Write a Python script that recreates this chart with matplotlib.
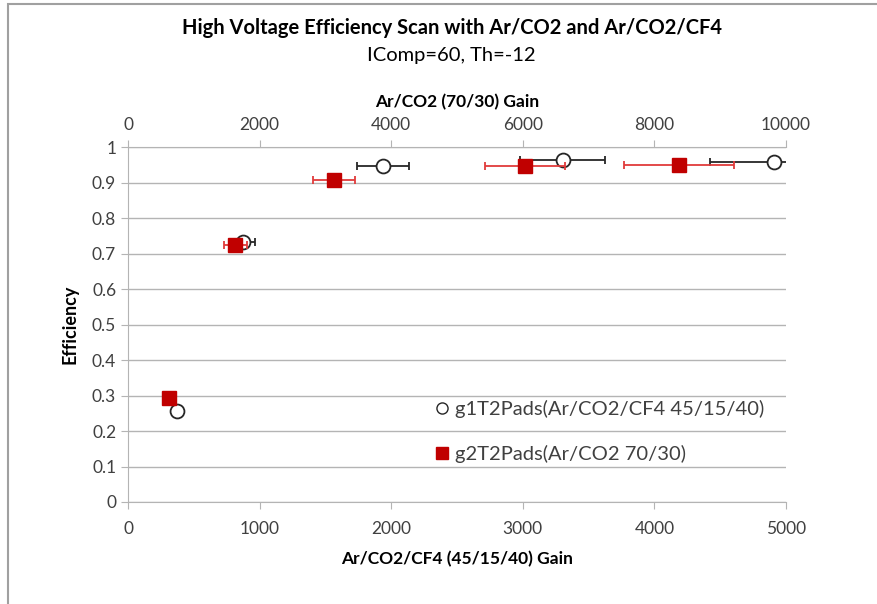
#!/usr/bin/env python3
import matplotlib
matplotlib.use('Agg')
import matplotlib.pyplot as plt
from matplotlib.patches import Rectangle
from matplotlib.lines import Line2D

plt.rcParams['font.family'] = ['Lato', 'DejaVu Sans']

# g1: Ar/CO2/CF4 (45/15/40), bottom axis
g1_gain = [373, 875, 1941, 3303, 4909]
g1_eff = [0.255, 0.731, 0.946, 0.963, 0.958]
g1_err = [0, 90, 198, 325, 490]

# g2: Ar/CO2 (70/30), top axis
g2_gain = [624, 1629, 3135, 6027, 8371]
g2_eff = [0.292, 0.725, 0.906, 0.946, 0.949]
g2_err = [0, 175, 320, 609, 837]

y_ticks = [0, 0.1, 0.2, 0.3, 0.4, 0.5, 0.6, 0.7, 0.8, 0.9, 1]
bottom_ticks = [0, 1000, 2000, 3000, 4000, 5000]
top_ticks = [0, 2000, 4000, 6000, 8000, 10000]

grey = '#b4b4b4'
txt = '#404040'

fig = plt.figure(figsize=(8.77, 6.04), dpi=100)
# outer chart border (only left and top visible in the crop)
fig.patches.append(Rectangle((8 / 877, -0.1), 1.2, 1 - 4 / 604 + 0.1,
                             transform=fig.transFigure, fill=False,
                             edgecolor='#a0a0a0', lw=1.5))

ax = fig.add_axes([128 / 877, 1 - 502 / 604, 658 / 877, 355 / 604])
ax.set_xlim(0, 5000)
ax.set_ylim(0, 1)
ax.set_yticks(y_ticks)
ax.set_yticklabels([f'{v:g}' for v in y_ticks])
ax.set_xticks(bottom_ticks)
ax.grid(axis='y', color=grey, lw=1)
ax.set_axisbelow(True)
for s in ['right', 'top']:
    ax.spines[s].set_visible(False)
for s in ['left', 'bottom']:
    ax.spines[s].set_color(grey)
ax.tick_params(colors=grey, labelcolor=txt, labelsize=12.5, length=5)
ax.tick_params(axis='x', pad=9)

ax.errorbar(g1_gain, g1_eff, xerr=g1_err, fmt='o', ms=10, mfc='white',
            mec='#262626', mew=1.3, ecolor='#262626', elinewidth=1.3,
            capsize=3, capthick=1.3, label='g1T2Pads(Ar/CO2/CF4 45/15/40)')

ax2 = ax.twiny()
ax2.set_xlim(0, 10000)
ax2.set_xticks(top_ticks)
for s in ['right', 'left', 'bottom']:
    ax2.spines[s].set_visible(False)
ax2.spines['top'].set_color(grey)
ax2.tick_params(colors=grey, labelcolor=txt, labelsize=12.5, length=5, pad=5)
ax2.errorbar(g2_gain, g2_eff, xerr=g2_err, fmt='s', ms=9.5, mfc='#c00000',
             mec='#c00000', ecolor='#e03c3c', elinewidth=1.3,
             capsize=3, capthick=1.3, label='g2T2Pads(Ar/CO2 70/30)')

ax.set_xlabel('Ar/CO2/CF4 (45/15/40) Gain', fontsize=12.5, fontweight='bold',
              labelpad=10)
ax2.set_xlabel('Ar/CO2 (70/30) Gain', fontsize=12.5, fontweight='bold',
               labelpad=7)
ax.set_ylabel('Efficiency', fontsize=13, fontweight='bold', labelpad=10)

# legend built from both series
l1 = ax.get_legend_handles_labels()[1]
l2 = ax2.get_legend_handles_labels()[1]
handles = [Line2D([], [], marker='o', ls='', ms=8, mfc='white', mec='#262626', mew=1),
           Line2D([], [], marker='s', ls='', ms=8, mfc='#c00000', mec='#c00000')]
ax2.legend(handles, l1 + l2, loc='lower left', bbox_to_anchor=(0.44, 0.06),
           frameon=False, fontsize=14.5, handlelength=0.6, handletextpad=0.35,
           labelspacing=1.3, labelcolor=txt)

fig.text(0.515, 1 - 28 / 604, 'High Voltage Efficiency Scan with Ar/CO2 and Ar/CO2/CF4',
         ha='center', va='center', fontsize=14.5, fontweight='bold', color='black')
fig.text(0.515, 1 - 55 / 604, 'IComp=60, Th=-12', ha='center', va='center',
         fontsize=14.5, color='black')

fig.savefig('out.png', dpi=100)
